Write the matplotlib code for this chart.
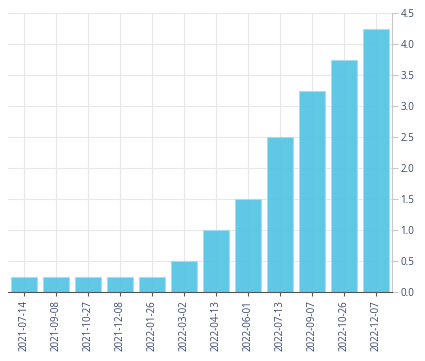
import matplotlib
matplotlib.use("Agg")
import matplotlib.pyplot as plt

dates = ["2021-07-14", "2021-09-08", "2021-10-27", "2021-12-08", "2022-01-26",
         "2022-03-02", "2022-04-13", "2022-06-01", "2022-07-13", "2022-09-07",
         "2022-10-26", "2022-12-07"]
values = [0.25, 0.25, 0.25, 0.25, 0.25, 0.5, 1.0, 1.5, 2.5, 3.25, 3.75, 4.25]
yticks = [0.0, 0.5, 1.0, 1.5, 2.0, 2.5, 3.0, 3.5, 4.0, 4.5]

plt.rcParams['font.family'] = ['Open Sans', 'DejaVu Sans']
fig = plt.figure(figsize=(4.25, 3.61), dpi=100)
ax = fig.add_axes([8/425, 1 - 292/361, 384/425, 279/361])

x = list(range(len(dates)))
ax.bar(x, values, width=0.82, color="#4fc2e2", alpha=0.9, edgecolor="#a3ddf0", linewidth=0.8, zorder=2)
ax.set_xlim(-0.5, len(dates) - 0.5)
ax.set_ylim(0, 4.5)
ax.set_xticks(x)
ax.set_xticklabels(dates, rotation=90)
ax.set_yticks(yticks)
ax.set_yticklabels([f"{v:.1f}" for v in yticks])
ax.yaxis.tick_right()
ax.grid(True, color="#e8e8e8", linewidth=0.8, zorder=0)
ax.set_axisbelow(True)
for s in ["top", "left"]:
    ax.spines[s].set_visible(False)
ax.spines["right"].set_color("#c8c8c8")
ax.spines["bottom"].set_color("#555555")
ax.tick_params(axis="both", labelsize=7, colors="#c8c8c8", labelcolor="#3a4670", length=4, width=0.8)
ax.tick_params(axis="x", colors="#555555", labelcolor="#3a4670", length=3, pad=3)
ax.tick_params(axis="y", pad=2)
fig.savefig("out.png", dpi=100)
